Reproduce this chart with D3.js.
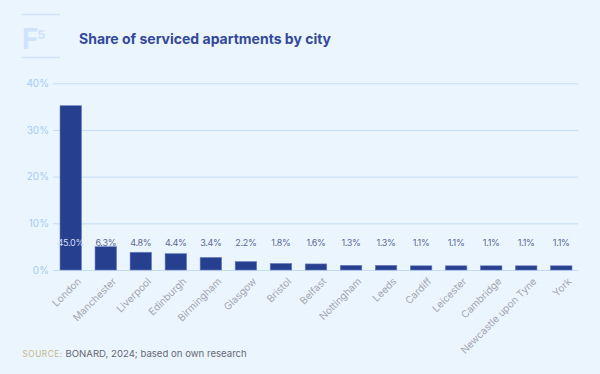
<!DOCTYPE html>
<html>
<head>
<meta charset="utf-8">
<script src="https://cdn.jsdelivr.net/npm/d3@7"></script>
<style>
  body { margin: 0; background: #ebf5fe; }
  svg { display: block; font-family: Inter, "Noto Sans", sans-serif; }
</style>
</head>
<body>
<svg id="chart" width="600" height="374"></svg>
<script>
// data
let cities = ["London", "Manchester", "Liverpool", "Edinburgh", "Birmingham", "Glasgow", "Bristol", "Belfast",
  "Nottingham", "Leeds", "Cardiff", "Leicester", "Cambridge", "Newcastle upon Tyne", "York"]
// printed labels
let shareLabels = [45.0, 6.3, 4.8, 4.4, 3.4, 2.2, 1.8, 1.6, 1.3, 1.3, 1.1, 1.1, 1.1, 1.1, 1.1]
// bar heights as measured on the axis
let barValues = [35.2, 5.0, 3.8, 3.5, 2.7, 1.8, 1.4, 1.3, 1.0, 1.0, 0.9, 0.9, 0.9, 0.9, 0.9]
let yTicks = [0, 10, 20, 30, 40]

let svg = d3.select("#chart")
svg.append("rect").attr("width", 600).attr("height", 374).attr("fill", "#ebf5fe")

// logo
let logo = svg.append("g")
logo.append("line").attr("x1", 22).attr("x2", 60).attr("y1", 14.5).attr("y2", 14.5).attr("stroke", "#cfe3fb").attr("stroke-width", 1.5)
logo.append("line").attr("x1", 22).attr("x2", 60).attr("y1", 57.5).attr("y2", 57.5).attr("stroke", "#cfe3fb").attr("stroke-width", 1.5)
logo.append("text").attr("x", 22).attr("y", 48.5).text("F").style("font-size", "28px").style("font-weight", "bold").attr("fill", "#cfe3fb")
logo.append("text").attr("x", 37.5).attr("y", 38.5).text("5").style("font-size", "12px").style("font-weight", "bold").attr("fill", "#cfe3fb")

// title
svg.append("text").attr("x", 79).attr("y", 43.5)
  .text("Share of serviced apartments by city")
  .style("font-size", "14px").style("font-weight", "bold").attr("fill", "#34499a")

// scales
let x = d3.scaleBand().domain(cities).range([53, 579]).paddingInner(0.386).paddingOuter(0.2)
let y = d3.scaleLinear().domain([0, 40]).range([270, 83.3])

// gridlines
let grid = svg.append("g")
  .attr("transform", "translate(53,0)")
  .call(d3.axisLeft(y).tickValues(yTicks).tickSize(-525).tickFormat(""))
grid.select(".domain").remove()
grid.selectAll(".tick line").attr("stroke", "#c4ddf6").attr("stroke-width", 1)

// y tick labels
let yAxis = svg.append("g")
  .attr("transform", "translate(49,0)")
  .call(d3.axisLeft(y).tickValues(yTicks).tickSize(0).tickPadding(0).tickFormat(d => d + "%"))
yAxis.select(".domain").remove()
yAxis.selectAll("text").attr("fill", "#a6cbf3").style("font-size", "10px").style("font-family", "Inter, sans-serif")

// bars
svg.append("g").selectAll("rect")
  .data(cities)
  .join("rect")
  .attr("x", d => x(d))
  .attr("y", (d, i) => y(barValues[i]))
  .attr("width", x.bandwidth())
  .attr("height", (d, i) => y(0) - y(barValues[i]))
  .attr("fill", "#263f8e")
  .attr("stroke", "#6d80be")
  .attr("stroke-width", 0.6)

// value labels
svg.append("g").selectAll("text")
  .data(cities)
  .join("text")
  .attr("x", d => x(d) + x.bandwidth() / 2)
  .attr("y", 245.5)
  .attr("text-anchor", "middle")
  .attr("fill", (d, i) => i == 0 ? "#d4dcf2" : "#5a6897")
  .style("font-size", "9px")
  .style("letter-spacing", "-0.3px")
  .text((d, i) => shareLabels[i].toFixed(1) + "%")

// x labels
let xAxis = svg.append("g")
  .attr("transform", "translate(0,270)")
  .call(d3.axisBottom(x).tickSize(0).tickPadding(0))
xAxis.select(".domain").remove()
xAxis.selectAll("text")
  .attr("text-anchor", "end")
  .attr("dy", 0)
  .attr("transform", "translate(11,12) rotate(-45)")
  .attr("fill", "#a3a6b0")
  .style("font-size", "10px")
  .style("font-family", "Inter, sans-serif")

// source
let src = svg.append("text").attr("x", 22.5).attr("y", 357).style("font-size", "9.6px")
src.append("tspan").text("SOURCE: ").attr("fill", "#c6b98d").style("font-size", "8.3px").style("letter-spacing", "0.5px")
src.append("tspan").text("BONARD, 2024; based on own research").attr("fill", "#666a72")
</script>
</body>
</html>
